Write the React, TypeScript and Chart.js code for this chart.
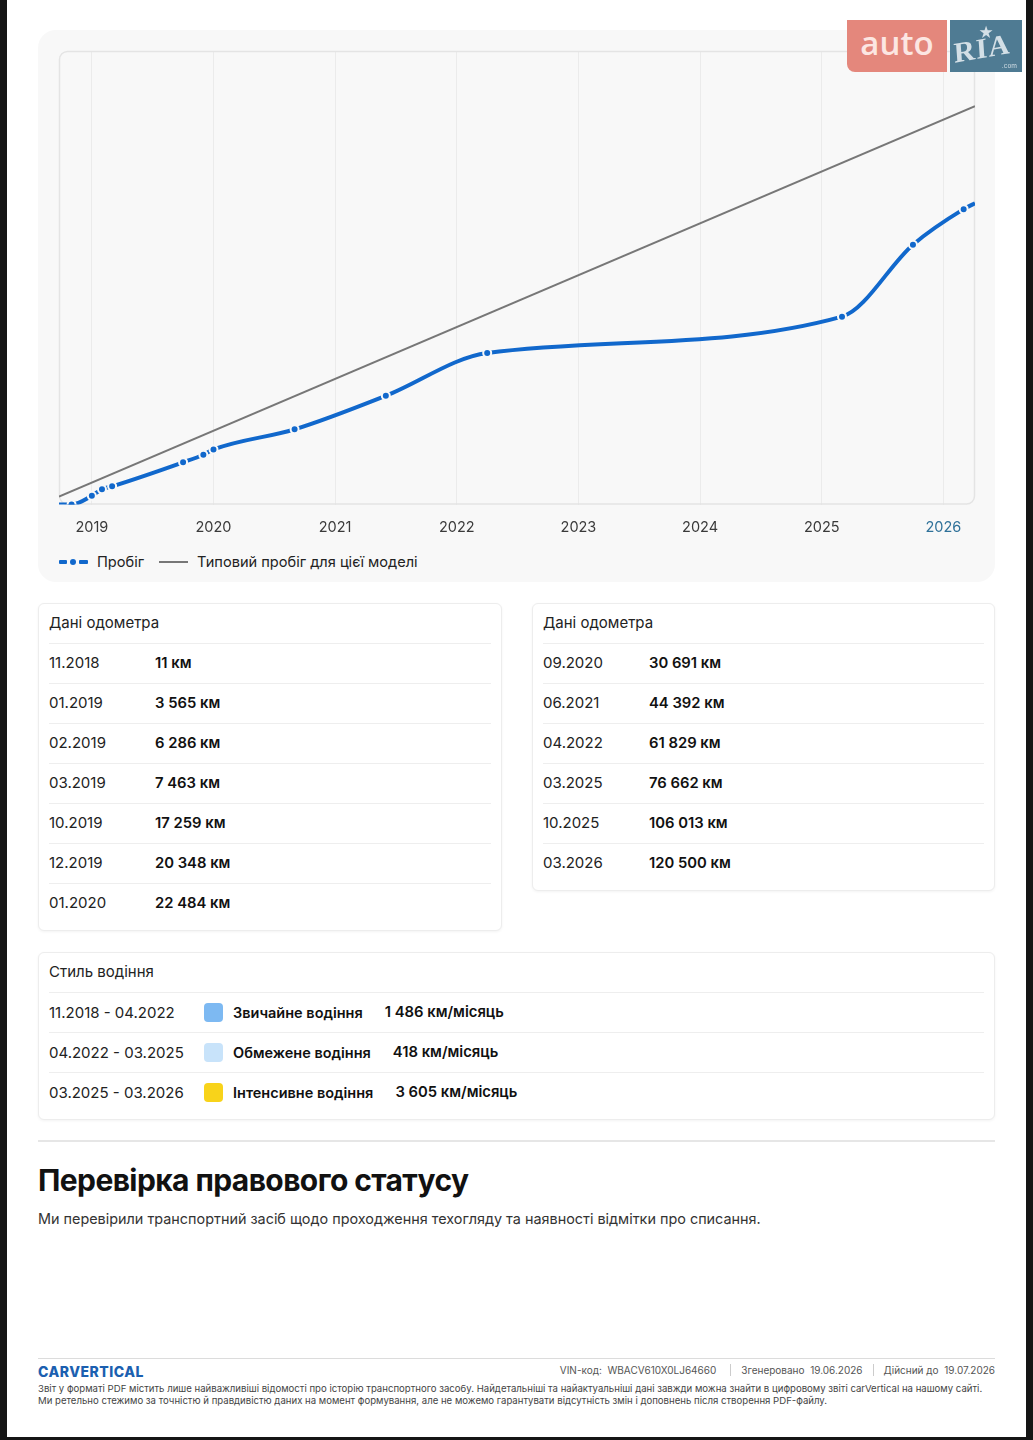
import React, { useEffect, useRef } from "react";
import { Chart, registerables } from "chart.js";

Chart.register(...registerables);

// Odometer readings (month.year → km)
const ODOMETER_DATES = [
  "11.2018", "01.2019", "02.2019", "03.2019", "10.2019", "12.2019", "01.2020",
  "09.2020", "06.2021", "04.2022", "03.2025", "10.2025", "03.2026",
];
const ODOMETER_KM = [11, 3565, 6286, 7463, 17259, 20348, 22484, 30691, 44392, 61829, 76662, 106013, 120500];

// Time axis (decimal years) and its year ticks
const AXIS_MIN = 2018.73;
const AXIS_MAX = 2026.26;
const YEAR_TICKS = [2019, 2020, 2021, 2022, 2023, 2024, 2025, 2026];
const CURRENT_YEAR = 2026;

// Mileage trace run-in at the left edge and run-out at the right edge
const TRACE_EDGE_KM = [0, 122900];
// Typical mileage for this model at the two edges of the axis
const TYPICAL_KM = [3300, 162500];
const KM_AXIS_MAX = 185000;

// Driving style periods
const STYLE_PERIODS = ["11.2018 - 04.2022", "04.2022 - 03.2025", "03.2025 - 03.2026"];
const STYLE_NAMES = ["Звичайне водіння", "Обмежене водіння", "Інтенсивне водіння"];
const STYLE_RATES = [1486, 418, 3605];
const STYLE_COLORS = ["#7db9f2", "#c8e3fa", "#f8d31a"];

const BLUE = "#1168cc";
const CARD_BG = "#f8f8f8";
const FONT = "Inter, 'Noto Sans', sans-serif";

const toYear = (s: string) => {
  const [m, y] = s.split(".").map(Number);
  return y + (m - 1) / 12;
};
const fmt = (n: number) => String(n).replace(/\B(?=(\d{3})+(?!\d))/g, " ");

const plotFrame = {
  id: "plotFrame",
  beforeDraw(chart: any) {
    const { ctx, chartArea: a } = chart;
    ctx.save();
    ctx.beginPath();
    ctx.roundRect(a.left, a.top, a.right - a.left, a.bottom - a.top, 8);
    ctx.fillStyle = CARD_BG;
    ctx.fill();
    ctx.restore();
  },
  beforeDatasetsDraw(chart: any) {
    const { ctx, chartArea: a } = chart;
    ctx.save();
    ctx.beginPath();
    ctx.roundRect(a.left + 0.5, a.top + 0.5, a.right - a.left - 1, a.bottom - a.top - 1, 8);
    ctx.strokeStyle = "#e4e4e4";
    ctx.lineWidth = 1.5;
    ctx.stroke();
    ctx.restore();
  },
};

function MileageChart() {
  const ref = useRef<HTMLCanvasElement>(null);
  useEffect(() => {
    if (!ref.current) return;
    const points = ODOMETER_DATES.map((d, i) => ({ x: toYear(d), y: ODOMETER_KM[i] }));
    const trace = [
      { x: AXIS_MIN, y: TRACE_EDGE_KM[0] },
      ...points,
      { x: AXIS_MAX, y: TRACE_EDGE_KM[1] },
    ];
    const last = trace.length - 1;
    const chart = new Chart(ref.current, {
      type: "line",
      data: {
        datasets: [
          {
            label: "Пробіг",
            data: trace,
            borderColor: BLUE,
            borderWidth: 4,
            cubicInterpolationMode: "monotone",
            pointRadius: (c: any) => (c.dataIndex === 0 || c.dataIndex === last ? 0 : 4),
            pointBackgroundColor: BLUE,
            pointBorderColor: CARD_BG,
            pointBorderWidth: 2,
            order: 0,
          },
          {
            label: "Типовий пробіг для цієї моделі",
            data: [
              { x: AXIS_MIN, y: TYPICAL_KM[0] },
              { x: AXIS_MAX, y: TYPICAL_KM[1] },
            ],
            borderColor: "#777777",
            borderWidth: 2,
            pointRadius: 0,
            order: 1,
          },
        ],
      },
      options: {
        animation: false,
        responsive: true,
        maintainAspectRatio: false,
        layout: { padding: { left: 21, right: 20, top: 21, bottom: 0 } },
        plugins: { legend: { display: false }, tooltip: { enabled: false } },
        scales: {
          x: {
            type: "linear",
            min: AXIS_MIN,
            max: AXIS_MAX,
            afterBuildTicks: (s: any) => {
              s.ticks = YEAR_TICKS.map((v) => ({ value: v }));
            },
            grid: { color: "#ebebeb", lineWidth: 1, drawTicks: false },
            border: { display: false },
            ticks: {
              padding: 14,
              autoSkip: false,
              maxRotation: 0,
              font: { family: FONT, size: 14.5 },
              color: (c: any) => (c.tick && c.tick.value === CURRENT_YEAR ? "#2f7199" : "#3a3a3a"),
              callback: (v: any) => String(v),
            },
          },
          y: {
            display: false,
            min: 0,
            max: KM_AXIS_MAX,
          },
        },
      },
      plugins: [plotFrame],
    });
    return () => chart.destroy();
  }, []);
  return (
    <div style={{ position: "absolute", left: 0, top: 0, width: 957, height: 520 }}>
      <canvas ref={ref} />
    </div>
  );
}

const cardStyle: React.CSSProperties = {
  position: "absolute",
  background: "#fff",
  border: "1px solid #ededed",
  borderRadius: 6,
  boxShadow: "0 1px 3px rgba(0,0,0,0.05)",
  boxSizing: "border-box",
};

function OdometerCard({ left, width, dates, kms, height }: any) {
  return (
    <div style={{ ...cardStyle, left, top: 603, width, height }}>
      <div style={{ position: "absolute", left: 10, top: 9, fontSize: 15, color: "#222" }}>Дані одометра</div>
      {dates.map((d: string, i: number) => (
        <div key={d} style={{ position: "absolute", left: 10, right: 10, top: 39 + i * 40, height: 40, borderTop: "1px solid #eeeeee" }}>
          <span style={{ position: "absolute", left: 0, top: 8, lineHeight: "22px", fontSize: 15, color: "#222" }}>{d}</span>
          <span style={{ position: "absolute", left: 106, top: 8, lineHeight: "22px", fontSize: 14.8, fontWeight: 600, color: "#111" }}>{fmt(kms[i])} км</span>
        </div>
      ))}
    </div>
  );
}

export default function App() {
  const split = 7;
  return (
    <div style={{ position: "fixed", inset: 0, background: "#151515", fontFamily: FONT }}>
      <div style={{ position: "absolute", left: 7, top: 0, width: 1019, height: 1437, background: "#fff" }} />
      <div style={{ position: "absolute", left: 0, top: 0, width: 1033, height: 1440 }}>
        {/* chart card */}
        <div style={{ position: "absolute", left: 38, top: 30, width: 957, height: 552, background: CARD_BG, borderRadius: 18 }}>
          <MileageChart />
          <div style={{ position: "absolute", left: 21, top: 523, display: "flex", alignItems: "center", fontSize: 14.6, color: "#222" }}>
            <span style={{ position: "relative", width: 29, height: 10, marginRight: 9 }}>
              <span style={{ position: "absolute", left: 0, top: 3, width: 8, height: 4, background: BLUE, borderRadius: 1 }} />
              <span style={{ position: "absolute", left: 11, top: 2, width: 6, height: 6, background: BLUE, borderRadius: 3 }} />
              <span style={{ position: "absolute", left: 20, top: 3, width: 9, height: 4, background: BLUE, borderRadius: 1 }} />
            </span>
            <span>Пробіг</span>
            <span style={{ width: 29, height: 2, background: "#777", marginLeft: 15, marginRight: 9 }} />
            <span>Типовий пробіг для цієї моделі</span>
          </div>
        </div>

        {/* auto.ria badge */}
        <div style={{ position: "absolute", left: 847, top: 20, width: 100, height: 52, background: "#e4877c", borderBottomLeftRadius: 8, color: "#fce6e2", fontSize: 33, lineHeight: "46px", display: "flex", justifyContent: "center", fontFamily: "'Open Sans', sans-serif", fontWeight: 600 }}>
          auto
        </div>
        <div style={{ position: "absolute", left: 950, top: 20, width: 72, height: 52, background: "#4f7b93", color: "#d3dfe6" }}>
          <div style={{ position: "absolute", left: 0, right: 0, top: 5, textAlign: "center", fontSize: 15, lineHeight: "15px" }}>★</div>
          <div style={{ position: "absolute", left: 4, top: 12, fontFamily: "'Liberation Serif', serif", fontWeight: 700, fontSize: 29, letterSpacing: 1, transform: "skewX(-6deg) rotate(-10deg)" }}>RIA</div>
          <div style={{ position: "absolute", right: 5, bottom: 2, fontSize: 6.5 }}>.com</div>
        </div>

        <OdometerCard left={38} width={464} height={328} dates={ODOMETER_DATES.slice(0, split)} kms={ODOMETER_KM.slice(0, split)} />
        <OdometerCard left={532} width={463} height={288} dates={ODOMETER_DATES.slice(split)} kms={ODOMETER_KM.slice(split)} />

        {/* driving style */}
        <div style={{ ...cardStyle, left: 38, top: 952, width: 957, height: 168 }}>
          <div style={{ position: "absolute", left: 10, top: 9, fontSize: 15, color: "#222" }}>Стиль водіння</div>
          {STYLE_PERIODS.map((p, i) => (
            <div key={p} style={{ position: "absolute", left: 10, right: 10, top: 39 + i * 40, height: 38, borderTop: "1px solid #eeeeee", display: "flex", alignItems: "center" }}>
              <span style={{ width: 155, fontSize: 15, color: "#222" }}>{p}</span>
              <span style={{ width: 19, height: 19, borderRadius: 4, background: STYLE_COLORS[i], marginRight: 10 }} />
              <span style={{ fontSize: 14.5, fontWeight: 600, color: "#111", marginRight: 22 }}>{STYLE_NAMES[i]}</span>
              <span style={{ fontSize: 14.8, fontWeight: 600, color: "#111" }}>{fmt(STYLE_RATES[i])} км/місяць</span>
            </div>
          ))}
        </div>

        <div style={{ position: "absolute", left: 38, top: 1140, width: 957, height: 2, background: "#e6e6e6" }} />
        <div style={{ position: "absolute", left: 38, top: 1162, fontSize: 30, fontWeight: 700, color: "#111", letterSpacing: -0.6 }}>
          Перевірка правового статусу
        </div>
        <div style={{ position: "absolute", left: 38, top: 1210, fontSize: 14.4, color: "#333" }}>
          Ми перевірили транспортний засіб щодо проходження техогляду та наявності відмітки про списання.
        </div>

        {/* footer */}
        <div style={{ position: "absolute", left: 38, top: 1358, width: 957, height: 1, background: "#dcdcdc" }} />
        <div style={{ position: "absolute", left: 38, top: 1363, fontSize: 14, fontWeight: 800, color: "#1b5fb0", letterSpacing: 0.5 }}>CARVERTICAL</div>
        <div style={{ position: "absolute", right: 1033 - 995, top: 1364, fontSize: 10, color: "#555", display: "flex", alignItems: "center" }}>
          <span>VIN-код:&nbsp; WBACV610X0LJ64660</span>
          <span style={{ width: 1, height: 12, background: "#ccc", margin: "0 10px 0 14px" }} />
          <span>Згенеровано&nbsp; 19.06.2026</span>
          <span style={{ width: 1, height: 12, background: "#ccc", margin: "0 10px" }} />
          <span>Дійсний до&nbsp; 19.07.2026</span>
        </div>
        <div style={{ position: "absolute", left: 38, top: 1383, fontSize: 9.6, lineHeight: "12px", color: "#444", whiteSpace: "nowrap" }}>
          Звіт у форматі PDF містить лише найважливіші відомості про історію транспортного засобу. Найдетальніші та найактуальніші дані завжди можна знайти в цифровому звіті carVertical на нашому сайті.
          <br />
          Ми ретельно стежимо за точністю й правдивістю даних на момент формування, але не можемо гарантувати відсутність змін і доповнень після створення PDF-файлу.
        </div>
      </div>
    </div>
  );
}
